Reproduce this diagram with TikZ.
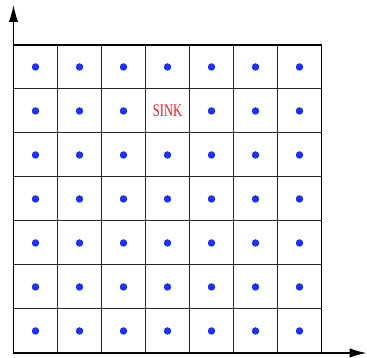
\documentclass[tikz,border=0pt]{standalone}
\usepackage{fontspec}
\setmainfont{Liberation Serif}
\usetikzlibrary{arrows.meta}
\definecolor{dotblue}{RGB}{30,50,230}
\definecolor{sinkred}{RGB}{225,30,45}
\begin{document}
\begin{tikzpicture}[x=1pt,y=1pt,
  gridline/.style={line width=1pt,draw=black!85},
  frame/.style={line width=1.4pt,draw=black},
  axis/.style={line width=1.4pt,-{Latex[length=17pt,width=9.5pt]}},
  sensor/.style={circle,fill=dotblue,inner sep=0pt,minimum size=7.5pt},
  sinklabel/.style={text=sinkred,font=\fontsize{12.6}{14}\selectfont,inner sep=0pt}]
\useasboundingbox (0,0) rectangle (367,358);
% grid (cells of 44pt), lower-left at (13.5,5)
\foreach \i in {1,...,6} {
  \draw[gridline] (13.5+44*\i,5) -- (13.5+44*\i,313);
  \draw[gridline] (13.5,5+44*\i) -- (321.5,5+44*\i);
}
\draw[frame] (13.5,5) rectangle (321.5,313);
% axes
\coordinate (o) at (13.5,5);
\coordinate (ytip) at (13.5,353);
\coordinate (xtip) at (366.5,5);
\draw[axis] (o) -- (ytip);
\draw[axis] (o) -- (xtip);
% sensors
\foreach \c in {0,...,6} {
  \foreach \r in {0,...,6} {
    \ifnum\r=1 \ifnum\c=3 \else
      \node[sensor] (s\r\c) at (35.5+44*\c,291-44*\r) {};
    \fi\else
      \node[sensor] (s\r\c) at (35.5+44*\c,291-44*\r) {};
    \fi
  }
}
\node[sinklabel] (sink) at (35.5+44*3,247) {\scalebox{1}[1.4]{SINK}};
\end{tikzpicture}
\end{document}
